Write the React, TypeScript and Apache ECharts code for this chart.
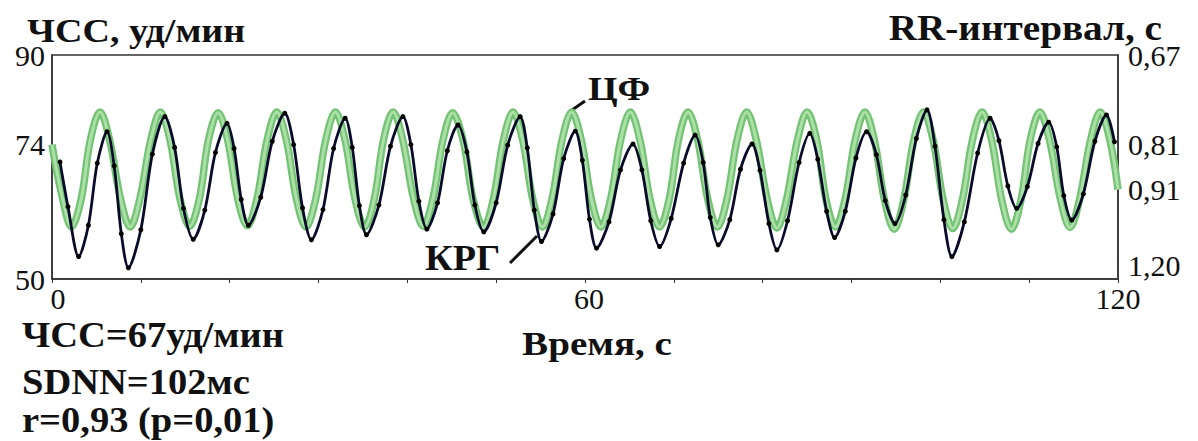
import React, { useEffect, useRef } from "react";
import * as echarts from "echarts";

// ЦФ (green) — time, s and heart rate, bpm
const greenTime = [0, 1.1, 2.2,
  3.3, 4.3, 5.4, 6.5, 7.7, 8.8, 9.9, 11.1, 12.2, 13.3, 14.4, 15.5, 16.6, 17.6, 18.7,
  19.8, 20.9, 22.0, 23.1, 24.2, 25.3, 26.4, 27.5, 28.6, 29.7, 30.8, 31.9, 33.0, 34.1, 35.2,
  36.3, 37.3, 38.4, 39.5, 40.7, 41.8, 42.9, 44.0, 45.1, 46.3, 47.4, 48.6, 49.7, 50.8, 51.9,
  53.0, 54.1, 55.2, 56.3, 57.4, 58.5, 59.6, 60.7, 61.8, 62.9, 64.0, 65.1, 66.2, 67.3, 68.4,
  69.5, 70.5, 71.6, 72.7, 73.8, 74.9, 76.0, 77.1, 78.2, 79.3, 80.5, 81.6, 82.7, 83.9, 85.0,
  86.1, 87.1, 88.2, 89.3, 90.4, 91.5, 92.6, 93.7, 94.8, 95.9, 97.0, 98.1, 99.2, 100.3, 101.4,
  102.5, 103.6, 104.7, 105.8, 106.9, 108.0, 109.1, 110.1, 111.2, 112.3, 113.5, 114.6,
  115.7, 116.9, 118.0, 119.1, 120];
const greenHR = [74.0, 65.0, 59.3,
  64.4, 74.7, 79.8, 74.7, 64.4, 59.3, 64.4, 74.7, 79.8, 74.7, 64.4, 59.4, 64.4, 74.7, 79.7,
  74.6, 64.4, 59.5, 64.5, 74.7, 79.8, 74.7, 64.4, 59.3, 64.4, 74.7, 79.8, 74.7, 64.4, 59.3,
  64.4, 74.7, 79.8, 74.7, 64.4, 59.4, 64.5, 74.7, 79.7, 74.6, 64.3, 59.2, 64.4, 74.7, 79.8,
  74.7, 64.4, 59.3, 64.4, 74.7, 79.8, 74.7, 64.4, 59.3, 64.4, 74.7, 79.8, 74.7, 64.4, 59.3,
  64.4, 74.7, 79.8, 74.7, 64.4, 59.3, 64.4, 74.7, 79.8, 74.7, 64.3, 59.1, 64.3, 74.7, 79.8,
  74.7, 64.4, 59.3, 64.4, 74.7, 79.8, 74.6, 64.2, 58.9, 64.3, 74.7, 79.8, 74.7, 64.3, 59.0,
  64.3, 74.7, 79.8, 74.6, 64.2, 58.9, 64.3, 74.7, 79.8, 74.7, 64.4, 59.2,
  64.4, 74.7, 79.8, 74.7, 66.0];

// КРГ (dark, with beat markers)
const krgTime = [0.9, 1.8, 3.0,
  4.1, 5.1, 6.2, 7.0, 7.8, 8.6, 10.0, 11.3, 12.7, 13.8, 14.8, 15.9, 17.2, 18.4, 19.7,
  20.5, 21.3, 22.1, 23.5, 24.8, 26.2, 27.2, 28.2, 29.2, 30.5, 31.7, 33.0, 33.8, 34.6, 35.4,
  36.8, 38.1, 39.5, 40.4, 41.3, 42.2, 43.4, 44.5, 45.7, 46.7, 47.6, 48.6, 50.0, 51.3, 52.7,
  53.5, 54.3, 55.1, 56.4, 57.6, 58.9, 59.7, 60.5, 61.3, 62.7, 64.0, 65.4, 66.4, 67.4, 68.4,
  69.7, 71.1, 72.4, 73.3, 74.1, 75.0, 76.3, 77.5, 78.8, 79.7, 80.7, 81.6, 82.8, 84.1, 85.3,
  86.2, 87.2, 88.1, 89.3, 90.5, 91.7, 92.8, 93.8, 94.9, 96.1, 97.3, 98.5, 99.4, 100.4, 101.3,
  102.7, 104.2, 105.6, 106.6, 107.6, 108.6, 109.8, 111.0, 112.2, 113.1, 113.9, 114.8,
  116.1, 117.4, 118.7, 119.6];
const krgHR = [70.9, 62.9, 54.0,
  59.6, 70.7, 76.3, 70.2, 58.1, 52.0, 58.8, 72.3, 79.0, 73.5, 62.6, 57.1, 62.3, 72.6, 77.8,
  73.3, 64.2, 59.6, 64.6, 74.6, 79.6, 74.0, 62.7, 57.0, 62.4, 73.3, 78.7, 73.5, 63.1, 57.9,
  63.2, 73.7, 79.0, 74.0, 63.9, 58.9, 63.6, 72.9, 77.5, 72.7, 63.2, 58.4, 63.6, 73.9, 79.0,
  73.4, 62.3, 56.7, 61.6, 71.5, 76.4, 71.2, 60.7, 55.5, 60.2, 69.5, 74.1, 69.5, 60.4, 55.8,
  60.8, 70.7, 75.7, 70.8, 61.0, 56.1, 60.6, 69.6, 74.1, 69.4, 59.9, 55.2, 60.4, 70.8, 76.0,
  71.4, 62.1, 57.4, 62.1, 71.6, 76.3, 72.2, 64.0, 59.9, 65.0, 75.1, 80.2, 73.7, 60.6, 54.0,
  60.2, 72.5, 78.7, 74.7, 66.6, 62.6, 66.5, 74.2, 78.0, 73.6, 64.9, 60.5,
  65.2, 74.6, 79.3, 74.5];

// tick labels
const xTickValues = [0, 60, 120];
const xTickLabels = ["0", "60", "120"];
const leftTickValues = [90, 74, 50];
const leftTickLabels = ["90", "74", "50"];
const rightTickValues = [90, 74, 66, 50];
const rightTickLabels = ["0,67", "0,81", "0,91", "1,20"];

const statsLines = ["ЧСС=67уд/мин", "SDNN=102мс", "r=0,93 (p=0,01)"];

const SERIF = "Liberation Serif, Times New Roman, DejaVu Serif, serif";

function pairs(xs: number[], ys: number[]) {
  const n = Math.min(xs.length, ys.length);
  const out: number[][] = [];
  for (let i = 0; i < n; i++) out.push([xs[i], ys[i]]);
  return out;
}

export default function App() {
  const ref = useRef<HTMLDivElement>(null);
  useEffect(() => {
    document.body.style.margin = "0";
    if (!ref.current) return;
    const chart = echarts.init(ref.current, undefined, { renderer: "svg" });
    const green = pairs(greenTime, greenHR);
    const krg = pairs(krgTime, krgHR);
    const tickFont = { fontFamily: SERIF, fontSize: 30, color: "#111" };
    const label = (text: string, x: number, y: number, size: number, sx: number, align = "left") => ({
      type: "text", x, y, scaleX: sx,
      style: {
        text, fontFamily: SERIF, fontSize: size, fontWeight: "bold",
        fill: "#111", align, verticalAlign: "top",
      },
    });
    chart.setOption({
      animation: false,
      backgroundColor: "#fff",
      grid: {
        left: 52, right: 80, top: 55, bottom: 162,
        show: true, borderColor: "#333", borderWidth: 1.5, backgroundColor: "transparent",
      },
      xAxis: {
        type: "value", min: 0, max: 120, interval: 10,
        axisLine: { show: true, lineStyle: { color: "#333", width: 1.5 } },
        axisTick: { show: true, inside: false, length: 4, lineStyle: { color: "#333" } },
        splitLine: { show: false },
        axisLabel: {
          ...tickFont, margin: 4,
          formatter: (v: number) => {
            const i = xTickValues.indexOf(v);
            if (i < 0) return "";
            if (v === 0) return "{z|" + xTickLabels[i] + "}";
            if (v === 60) return "{s|" + xTickLabels[i] + "}";
            return xTickLabels[i];
          },
          rich: {
            z: { ...tickFont, padding: [0, 0, 0, 12] },
            s: { ...tickFont, padding: [0, 0, 0, 8] },
          },
        },
      },
      yAxis: [
        {
          type: "value", min: 50, max: 90, interval: 2, position: "left",
          axisLine: { show: true, lineStyle: { color: "#333", width: 1.5 } },
          axisTick: { show: false },
          splitLine: { show: false },
          axisLabel: {
            ...tickFont, margin: 7,
            formatter: (v: number) => {
              const i = leftTickValues.indexOf(v);
              return i < 0 ? "" : leftTickLabels[i];
            },
          },
        },
        {
          type: "value", min: 50, max: 90, interval: 2, position: "right",
          axisLine: { show: true, lineStyle: { color: "#333", width: 1.5 } },
          axisTick: { show: false },
          splitLine: { show: false },
          axisLabel: {
            ...tickFont, margin: 10,
            formatter: (v: number) => {
              const i = rightTickValues.indexOf(v);
              if (i < 0) return "";
              if (v === 50) return "{up|" + rightTickLabels[i] + "}";
              return rightTickLabels[i];
            },
            rich: { up: { ...tickFont, padding: [0, 0, 28, 0] } },
          },
        },
      ],
      series: [
        {
          name: "ЦФ", type: "line", data: green, smooth: 0.35, showSymbol: false,
          lineStyle: { color: "#74c374", width: 7.5 }, z: 1,
        },
        {
          name: "ЦФ-внутр", type: "line", data: green, smooth: 0.35, showSymbol: false,
          lineStyle: { color: "#ade0a9", width: 3 }, z: 2,
        },
        {
          name: "КРГ", type: "line", data: krg, smooth: 0.3,
          symbol: "circle", symbolSize: 5, showSymbol: true,
          lineStyle: { color: "#0a0a2a", width: 2.8 },
          itemStyle: { color: "#000" }, z: 3,
        },
      ],
      graphic: [
        label("ЧСС, уд/мин", 27, 14, 34, 1.12),
        label("RR-интервал, с", 1162, 11, 35, 1.12, "right"),
        ...statsLines.map((s, i) => label(s, 22, [317, 364, 402][i], 36, 1.07)),
        label("Время, с", 597, 326, 34, 1.15, "center"),
        label("ЦФ", 588, 72, 34, 1.12),
        {
          type: "line", shape: { x1: 572, y1: 110, x2: 585, y2: 101 },
          style: { stroke: "#111", lineWidth: 3 },
        },
        label("КРГ", 425, 241, 35, 1.09),
        {
          type: "line", shape: { x1: 510, y1: 263, x2: 537, y2: 236 },
          style: { stroke: "#111", lineWidth: 3 },
        },
      ],
    });
    return () => chart.dispose();
  }, []);
  return <div ref={ref} style={{ width: 1198, height: 441 }} />;
}
